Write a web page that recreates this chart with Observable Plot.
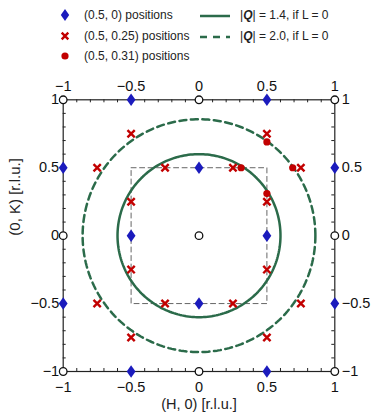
<!DOCTYPE html>
<html><head><meta charset="utf-8">
<script src="https://cdn.jsdelivr.net/npm/d3@7"></script>
<script src="https://cdn.jsdelivr.net/npm/@observablehq/plot@0.6"></script>
<style>
body{margin:0;background:#fff;font-family:"Liberation Sans",Arial,sans-serif;}
#wrap{position:relative;width:374px;height:416px;}
#legend{position:relative;width:374px;height:68px;font-size:12px;color:#222;}
.sym{position:absolute;}
.lab{position:absolute;height:20px;line-height:20px;white-space:nowrap;}
#chart svg{display:block;}
</style></head><body>
<div id="wrap"><div id="legend"></div><div id="chart"></div></div>
<script>
// ---- data ----
const majorTicks = [-1, -0.5, 0, 0.5, 1];
const minorTicks = [-1, -0.9, -0.8, -0.7, -0.6, -0.5, -0.4, -0.3, -0.2, -0.1, 0, 0.1, 0.2, 0.3, 0.4, 0.5, 0.6, 0.7, 0.8, 0.9, 1];

const braggH = [-1, 0, 1, -1, 0, 1, -1, 0, 1];
const braggK = [1, 1, 1, 0, 0, 0, -1, -1, -1];

const diamondH = [-0.5, 0.5, -1, 0, 1, -0.5, 0.5, -1, 0, 1, -0.5, 0.5];
const diamondK = [1, 1, 0.5, 0.5, 0.5, 0, 0, -0.5, -0.5, -0.5, -1, -1];

const crossH = [-0.5, 0.5, -0.75, -0.25, 0.25, 0.75, -0.5, 0.5, -0.5, 0.5, -0.75, -0.25, 0.25, 0.75, -0.5, 0.5];
const crossK = [0.75, 0.75, 0.5, 0.5, 0.5, 0.5, 0.25, 0.25, -0.25, -0.25, -0.5, -0.5, -0.5, -0.5, -0.75, -0.75];

const dotH = [0.5, 0.31, 0.69, 0.5];
const dotK = [0.69, 0.5, 0.5, 0.31];

const squareH = [-0.5, 0.5, 0.5, -0.5, -0.5];
const squareK = [0.5, 0.5, -0.5, -0.5, 0.5];

const qValues = [1.4, 2.0];          // |Q| in 1/Å
const qRadius = [0.6, 0.857];        // corresponding radius in r.l.u.

const legendLabels = ["(0.5, 0) positions", "(0.5, 0.25) positions", "(0.5, 0.31) positions"];
const xTitle = "(H, 0) [r.l.u.]";
const yTitle = "(0, K) [r.l.u.]";

// ---- styles ----
const BLUE = "#1b1bbd", RED = "#c20000", GREEN = "#2b6b4a";
const FONT = '"Liberation Sans", Arial, sans-serif';

const braggData = braggH.map((h, i) => ({h, k: braggK[i]}));
const diamondData = diamondH.map((h, i) => ({h, k: diamondK[i]}));
const crossData = crossH.map((h, i) => ({h, k: crossK[i]}));
const dotData = dotH.map((h, i) => ({h, k: dotK[i]}));
const squareData = squareH.map((h, i) => ({h, k: squareK[i]}));
const circleData = qValues.map((q, j) =>
  d3.range(0, 241).map(i => {
    const t = (i / 240) * 2 * Math.PI;
    return {q, h: qRadius[j] * Math.cos(t), k: qRadius[j] * Math.sin(t)};
  }));

const diamondSymbol = {
  draw(ctx, size) {
    const r = Math.sqrt(size / Math.PI);
    ctx.moveTo(0, -1.3 * r);
    ctx.lineTo(0.92 * r, 0);
    ctx.lineTo(0, 1.3 * r);
    ctx.lineTo(-0.92 * r, 0);
    ctx.closePath();
  }
};

// ---- legend ----
const legend = document.getElementById("legend");
function addSvg(left, top, w, h, inner) {
  const d = document.createElement("div");
  d.className = "sym";
  d.style.left = left + "px"; d.style.top = top + "px";
  d.innerHTML = `<svg width="${w}" height="${h}" viewBox="0 0 ${w} ${h}">${inner}</svg>`;
  legend.appendChild(d);
}
function addLabel(left, cy, html) {
  const d = document.createElement("div");
  d.className = "lab";
  d.style.left = left + "px"; d.style.top = (cy - 10) + "px";
  d.innerHTML = html;
  legend.appendChild(d);
}
const rows = [15, 35.5, 56];
addSvg(59, rows[0] - 7, 12, 14, `<path d="M6,1L10.2,7L6,13L1.8,7Z" fill="${BLUE}"/>`);
addSvg(59, rows[1] - 7, 12, 14, `<path d="M2.7,3.7L9.3,10.3M9.3,3.7L2.7,10.3" stroke="${RED}" stroke-width="2.4"/>`);
addSvg(59, rows[2] - 7, 12, 14, `<circle cx="6" cy="7" r="3.6" fill="${RED}"/>`);
legendLabels.forEach((t, i) => addLabel(84, rows[i], t));
addSvg(198, rows[0] - 5, 36, 10, `<line x1="2" y1="5" x2="32" y2="5" stroke="${GREEN}" stroke-width="2.5"/>`);
addSvg(198, rows[1] - 5, 36, 10, `<line x1="2" y1="5" x2="32" y2="5" stroke="${GREEN}" stroke-width="2.5" stroke-dasharray="7,6"/>`);
qValues.forEach((q, i) => addLabel(240, rows[i], `|<b><i>Q</i></b>| = ${q.toFixed(1)}, if L = 0`));

// ---- chart ----
const W = 374, H = 348, mT = 31.3, mB = 45, mL = 62.7, mR = 39.7;
const fH = H - mT - mB, fW = W - mL - mR, tl = 3;
const fmt = d3.format("");
const TF = 14.5;

const chart = Plot.plot({
  width: W, height: H,
  marginTop: mT, marginBottom: mB, marginLeft: mL, marginRight: mR,
  x: {domain: [-1, 1]},
  y: {domain: [-1, 1]},
  style: {fontFamily: FONT, fontSize: "14.5px", color: "#111", background: "#fff"},
  marks: [
    Plot.line(squareData, {x: "h", y: "k", stroke: "#666", strokeWidth: 1, strokeDasharray: "5,3.5"}),
    Plot.line(circleData[0], {x: "h", y: "k", stroke: GREEN, strokeWidth: 2.5}),
    Plot.line(circleData[1], {x: "h", y: "k", stroke: GREEN, strokeWidth: 2.5, strokeDasharray: "7,4.5"}),
    Plot.frame({stroke: "#222", strokeWidth: 1.2}),
    Plot.tickX(minorTicks, {x: d => d, insetBottom: fH - tl, stroke: "#222"}),
    Plot.tickX(minorTicks, {x: d => d, insetTop: fH - tl, stroke: "#222"}),
    Plot.tickY(minorTicks, {y: d => d, insetRight: fW - tl, stroke: "#222"}),
    Plot.tickY(minorTicks, {y: d => d, insetLeft: fW - tl, stroke: "#222"}),
    Plot.axisX({anchor: "top", ticks: majorTicks, tickSize: 0, tickPadding: 9, tickFormat: fmt, label: null, fontSize: TF}),
    Plot.axisX({anchor: "bottom", ticks: majorTicks, tickSize: 0, tickPadding: 10, tickFormat: fmt, label: null, fontSize: TF}),
    Plot.axisY({anchor: "left", ticks: majorTicks, tickSize: 0, tickPadding: 4, tickFormat: fmt, label: null, fontSize: TF}),
    Plot.axisY({anchor: "right", ticks: majorTicks, tickSize: 0, tickPadding: 7, tickFormat: fmt, label: null, fontSize: TF}),
    Plot.text([xTitle], {frameAnchor: "bottom", dy: 37, fontSize: 14.5, fill: "#222"}),
    Plot.text([yTitle], {frameAnchor: "left", rotate: -90, dx: -47.7, fontSize: 15, fill: "#222"}),
    Plot.dot(braggData, {x: "h", y: "k", r: 3.8, stroke: "#111", strokeWidth: 1.3, fill: "#fff", clip: false}),
    Plot.dot(diamondData, {x: "h", y: "k", r: 4.8, symbol: diamondSymbol, fill: BLUE, stroke: "none"}),
    Plot.dot(dotData, {x: "h", y: "k", r: 3.6, fill: RED, stroke: "none"}),
    Plot.dot(crossData, {x: "h", y: "k", r: 3.4, symbol: "times", stroke: RED, strokeWidth: 2.4})
  ]
});
document.getElementById("chart").appendChild(chart);
</script>
</body></html>
